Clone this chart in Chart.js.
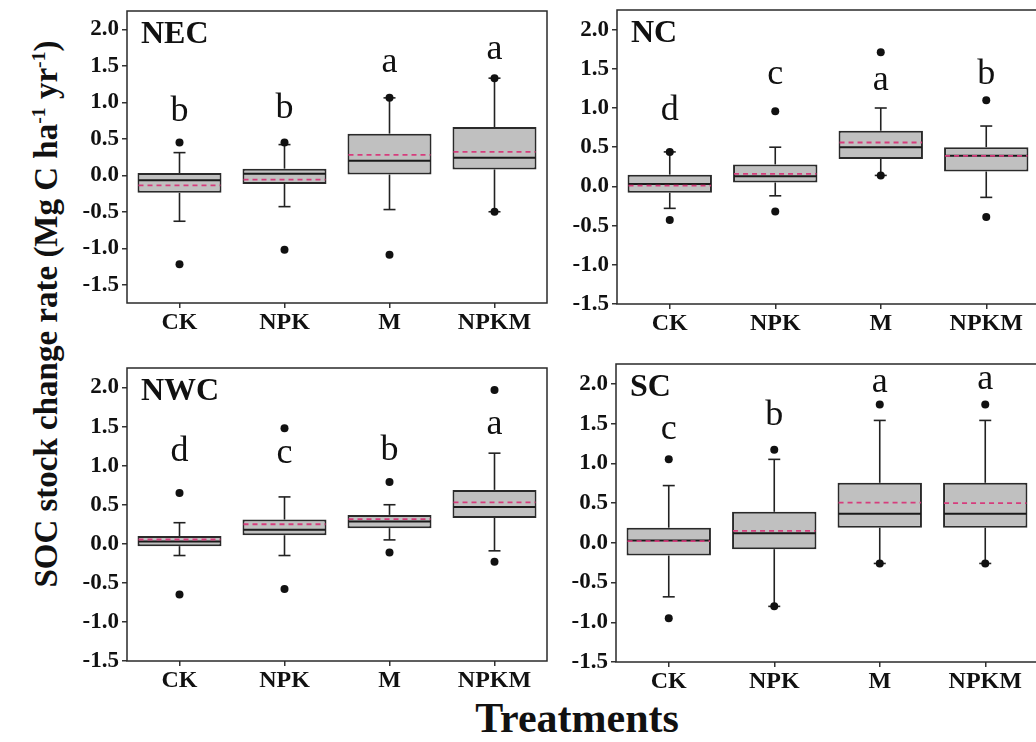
<!DOCTYPE html>
<html>
<head>
<meta charset="utf-8">
<script src="https://cdn.jsdelivr.net/npm/chart.js@4.4.1/dist/chart.umd.min.js"></script>
<style>
  html, body { margin: 0; padding: 0; background: #fff; overflow: hidden; }
  body { width: 1036px; height: 742px; position: relative; font-family: "Liberation Serif", "Times New Roman", serif; color: #111; }
  .panel { position: absolute; }
  .panel canvas { display: block; }
  #yTitle {
    position: absolute; left: 46px; top: 314px;
    transform: translate(-50%, -50%) rotate(-90deg);
    white-space: nowrap; font-weight: bold; font-size: 33px;
  }
  #yTitle sup { font-size: 60%; }
  #xTitle {
    position: absolute; left: 577px; top: 694px;
    transform: translateX(-50%);
    white-space: nowrap; font-weight: bold; font-size: 42px; line-height: 1.15;
  }
</style>
</head>
<body>
<div id="yTitle">SOC stock change rate (Mg C ha<sup>-1</sup> yr<sup>-1</sup>)</div>
<div id="xTitle">Treatments</div>

<script>
const treatments = ['CK', 'NPK', 'M', 'NPKM'];
const yTickValues = [-1.5, -1.0, -0.5, 0.0, 0.5, 1.0, 1.5, 2.0];

// NEC
const necQ1 = [-0.24, -0.12, 0.01, 0.08];
const necQ3 = [0.03, 0.09, 0.57, 0.66];
const necMedian = [-0.07, 0.02, 0.20, 0.24];
const necMean = [-0.14, -0.06, 0.28, 0.32];
const necLow = [-0.63, -0.43, -0.47, -0.50];
const necHigh = [0.31, 0.42, 1.06, 1.33];
const necOutliers = [[0.45, -1.22], [0.45, -1.02], [1.06, -1.09], [1.33, -0.50]];
const necLetters = ['b', 'b', 'a', 'a'];
const necLetterY = [0.75, 0.78, 1.41, 1.59];

// NC
const ncQ1 = [-0.08, 0.05, 0.35, 0.19];
const ncQ3 = [0.15, 0.28, 0.71, 0.50];
const ncMedian = [0.03, 0.13, 0.50, 0.39];
const ncMean = [0.01, 0.16, 0.56, 0.39];
const ncLow = [-0.28, -0.12, 0.14, -0.14];
const ncHigh = [0.44, 0.50, 1.00, 0.77];
const ncOutliers = [[0.44, -0.43], [0.96, -0.32], [1.71, 0.14], [1.10, -0.39]];
const ncLetters = ['d', 'c', 'a', 'b'];
const ncLetterY = [0.85, 1.31, 1.23, 1.31];

// NWC
const nwcQ1 = [-0.03, 0.11, 0.20, 0.33];
const nwcQ3 = [0.10, 0.31, 0.37, 0.69];
const nwcMedian = [0.03, 0.18, 0.285, 0.47];
const nwcMean = [0.055, 0.25, 0.315, 0.53];
const nwcLow = [-0.15, -0.15, 0.05, -0.09];
const nwcHigh = [0.27, 0.60, 0.50, 1.16];
const nwcOutliers = [[0.65, -0.65], [1.48, -0.58], [0.79, -0.11], [1.97, -0.23]];
const nwcLetters = ['d', 'c', 'b', 'a'];
const nwcLetterY = [1.06, 1.03, 1.07, 1.40];

// SC
const scQ1 = [-0.16, -0.08, 0.19, 0.19];
const scQ3 = [0.19, 0.39, 0.755, 0.755];
const scMedian = [0.03, 0.12, 0.365, 0.365];
const scMean = [0.02, 0.15, 0.505, 0.50];
const scLow = [-0.68, -0.80, -0.26, -0.26];
const scHigh = [0.72, 1.05, 1.54, 1.54];
const scOutliers = [[1.05, -0.95], [1.17, -0.80], [1.74, -0.26], [1.74, -0.26]];
const scLetters = ['c', 'b', 'a', 'a'];
const scLetterY = [1.31, 1.48, 1.90, 1.93];

const panels = [
  {name: 'NEC', q1: necQ1, q3: necQ3, median: necMedian, mean: necMean, low: necLow, high: necHigh,
   outliers: necOutliers, letters: necLetters, letterY: necLetterY, yMin: -1.75, yMax: 2.25,
   box: {left: 67, top: 7, width: 484, height: 332}},
  {name: 'NC', q1: ncQ1, q3: ncQ3, median: ncMedian, mean: ncMean, low: ncLow, high: ncHigh,
   outliers: ncOutliers, letters: ncLetters, letterY: ncLetterY, yMin: -1.5, yMax: 2.25,
   box: {left: 557, top: 6, width: 486, height: 334}},
  {name: 'NWC', q1: nwcQ1, q3: nwcQ3, median: nwcMedian, mean: nwcMean, low: nwcLow, high: nwcHigh,
   outliers: nwcOutliers, letters: nwcLetters, letterY: nwcLetterY, yMin: -1.5, yMax: 2.25,
   box: {left: 67, top: 364, width: 484, height: 333}},
  {name: 'SC', q1: scQ1, q3: scQ3, median: scMedian, mean: scMean, low: scLow, high: scHigh,
   outliers: scOutliers, letters: scLetters, letterY: scLetterY, yMin: -1.5, yMax: 2.25,
   box: {left: 556, top: 360, width: 486, height: 338}}
];

const serif = '"Liberation Serif", "Times New Roman", serif';

// whiskers, caps, median / mean lines, frame and labels, all placed through the chart scales
const boxExtras = {
  id: 'boxExtras',
  beforeDatasetsDraw(chart, args, opts) {
    const p = opts.panel;
    const xs = chart.scales.x, ys = chart.scales.y, ctx = chart.ctx;
    ctx.save();
    ctx.strokeStyle = '#222';
    ctx.lineWidth = 1.6;
    p.q1.forEach((v, i) => {
      const cx = xs.getPixelForValue(i);
      const segs = [[p.low[i], p.q1[i]], [p.q3[i], p.high[i]]];
      segs.forEach(s => {
        ctx.beginPath();
        ctx.moveTo(cx, ys.getPixelForValue(s[0]));
        ctx.lineTo(cx, ys.getPixelForValue(s[1]));
        ctx.stroke();
      });
      [p.low[i], p.high[i]].forEach(w => {
        const py = ys.getPixelForValue(w);
        ctx.beginPath();
        ctx.moveTo(cx - 6, py);
        ctx.lineTo(cx + 6, py);
        ctx.stroke();
      });
    });
    ctx.restore();
  },
  afterDatasetsDraw(chart, args, opts) {
    const p = opts.panel;
    const xs = chart.scales.x, ys = chart.scales.y, ctx = chart.ctx;
    const bars = chart.getDatasetMeta(1).data;
    const area = chart.chartArea;
    ctx.save();
    p.q1.forEach((v, i) => {
      const cx = xs.getPixelForValue(i);
      const half = bars[i].width / 2 - 1;
      // median
      let py = ys.getPixelForValue(p.median[i]);
      ctx.setLineDash([]);
      ctx.strokeStyle = '#1a1a1a';
      ctx.lineWidth = 2;
      ctx.beginPath();
      ctx.moveTo(cx - half, py);
      ctx.lineTo(cx + half, py);
      ctx.stroke();
      // mean
      py = ys.getPixelForValue(p.mean[i]);
      ctx.setLineDash([5, 4]);
      ctx.strokeStyle = '#d63c7c';
      ctx.lineWidth = 1.8;
      ctx.beginPath();
      ctx.moveTo(cx - half, py);
      ctx.lineTo(cx + half, py);
      ctx.stroke();
      // significance letter
      ctx.setLineDash([]);
      ctx.fillStyle = '#111';
      ctx.font = '36px ' + serif;
      ctx.textAlign = 'center';
      ctx.textBaseline = 'alphabetic';
      ctx.fillText(p.letters[i], cx, ys.getPixelForValue(p.letterY[i]));
    });
    // frame
    ctx.setLineDash([]);
    ctx.strokeStyle = '#2a2a2a';
    ctx.lineWidth = 1.5;
    ctx.strokeRect(area.left, area.top, area.right - area.left, area.bottom - area.top);
    // region name
    ctx.fillStyle = '#111';
    ctx.font = 'bold 32px ' + serif;
    ctx.textAlign = 'left';
    ctx.fillText(p.name, area.left + 14, area.top + 32);
    ctx.restore();
  }
};

panels.forEach(p => {
  const holder = document.createElement('div');
  holder.className = 'panel';
  holder.style.left = p.box.left + 'px';
  holder.style.top = p.box.top + 'px';
  const canvas = document.createElement('canvas');
  canvas.width = p.box.width;
  canvas.height = p.box.height;
  holder.appendChild(canvas);
  document.body.appendChild(holder);

  const outlierPoints = [];
  p.outliers.forEach((vals, i) => {
    vals.forEach(v => outlierPoints.push({x: treatments[i], y: v}));
  });

  new Chart(canvas.getContext('2d'), {
    type: 'bar',
    data: {
      labels: treatments,
      datasets: [
        {
          type: 'line',
          data: outlierPoints,
          showLine: false,
          pointRadius: 4,
          pointBackgroundColor: '#111',
          pointBorderColor: '#111',
          pointBorderWidth: 0
        },
        {
          type: 'bar',
          data: p.q1.map((v, i) => [v, p.q3[i]]),
          backgroundColor: '#c0c0c0',
          borderColor: '#2a2a2a',
          borderWidth: 2,
          borderSkipped: false,
          barPercentage: 0.8,
          categoryPercentage: 1
        }
      ]
    },
    options: {
      responsive: false,
      animation: false,
      layout: {padding: {top: 2, right: 2, left: 0, bottom: 0}},
      plugins: {
        legend: {display: false},
        tooltip: {enabled: false},
        boxExtras: {panel: p}
      },
      scales: {
        x: {
          offset: true,
          afterFit: s => {
            s.height = 36;
            s.paddingLeft = 0;
            s.paddingRight = 0;
          },
          ticks: {
            color: '#111',
            font: {family: serif, weight: 'bold', size: 24},
            padding: 0,
            maxRotation: 0,
            autoSkip: false
          },
          grid: {offset: false, drawOnChartArea: false, tickLength: 5, color: '#333', lineWidth: 1.5},
          border: {display: false}
        },
        y: {
          min: p.yMin,
          max: p.yMax,
          afterBuildTicks: s => { s.ticks = yTickValues.map(v => ({value: v})); },
          afterFit: s => {
            s.width = 60;
            s.paddingTop = 0;
            s.paddingBottom = 0;
          },
          ticks: {
            callback: v => v.toFixed(1),
            color: '#111',
            font: {family: serif, weight: 'bold', size: 23},
            padding: 3
          },
          grid: {drawOnChartArea: false, tickLength: 5, color: '#333', lineWidth: 1.5},
          border: {display: false}
        }
      }
    },
    plugins: [boxExtras]
  });
});
</script>
</body>
</html>
